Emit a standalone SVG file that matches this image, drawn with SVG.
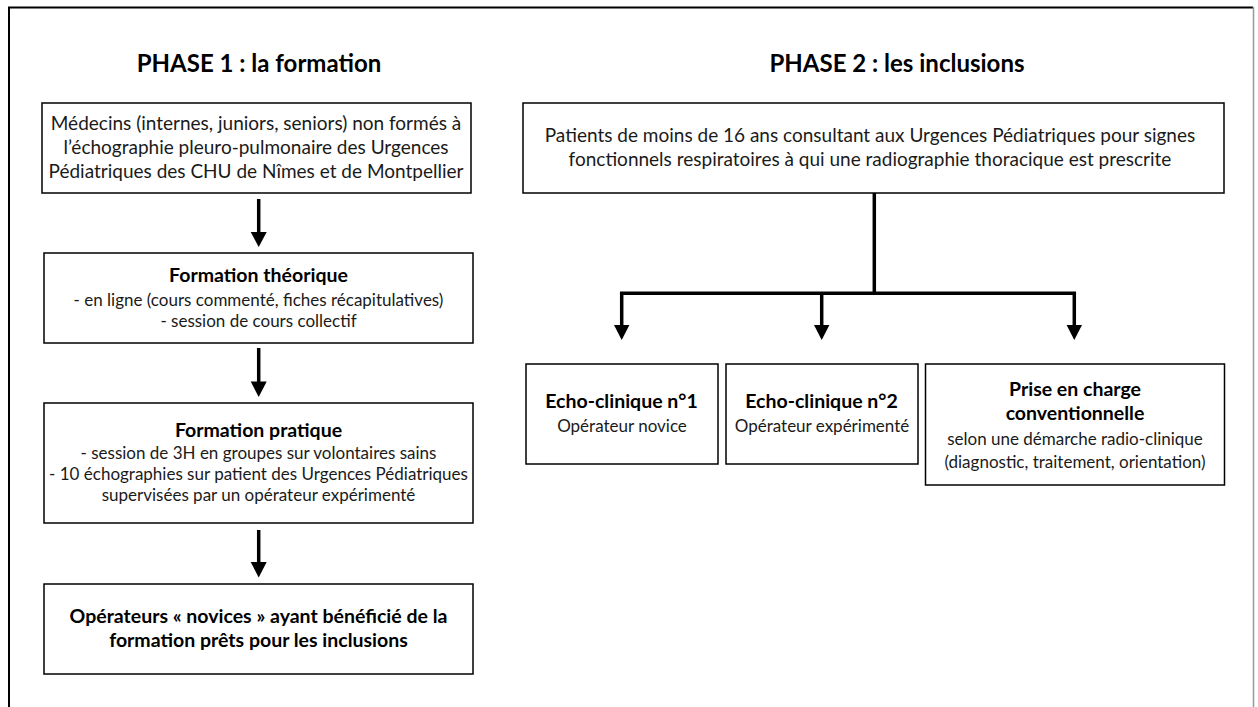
<svg xmlns="http://www.w3.org/2000/svg" width="1258" height="707" viewBox="0 0 1258 707">
<style>
.box{fill:#fff;stroke:#000;stroke-width:1.5}
.t{font-family:Lato,"Noto Sans","Liberation Sans",sans-serif;text-anchor:middle}
.title{font-size:24px;font-weight:700;fill:#000}
.h{font-size:19.5px;font-weight:700;fill:#000}
.r{font-size:17px;fill:#1a1a1a}
.rl{font-size:19px;fill:#1a1a1a}
.ln{stroke:#000;stroke-width:3.5;fill:none}
</style>
<rect width="1258" height="707" fill="#fff"/>
<g id="frame">
<path d="M9,707 L9,7.5 L1253,7.5" fill="none" stroke="#000" stroke-width="2"/>
<line x1="1253.5" y1="7" x2="1253.5" y2="707" stroke="#999" stroke-width="1.5"/>
</g>
<g id="titles">
<text class="t title" x="259" y="72">PHASE 1 : la formation</text>
<text class="t title" x="897" y="72">PHASE 2 : les inclusions</text>
</g>
<g id="connectors">
<path class="ln" d="M258.7,199 L258.7,232"/>
<path d="M250.7,232 L266.7,232 L258.7,247 Z"/>
<path class="ln" d="M258.7,348 L258.7,382"/>
<path d="M250.7,381.5 L266.7,381.5 L258.7,397 Z"/>
<path class="ln" d="M258.7,530 L258.7,563"/>
<path d="M250.7,562 L266.7,562 L258.7,577.5 Z"/>
<path class="ln" d="M874.3,193 L874.3,293.3"/>
<path class="ln" d="M621.7,326 L621.7,293.3 L1074.3,293.3 L1074.3,326"/>
<path class="ln" d="M821.7,293.3 L821.7,326"/>
<path d="M614,325 L629.4,325 L621.7,340 Z"/>
<path d="M814,325 L829.4,325 L821.7,340 Z"/>
<path d="M1066.6,325 L1082,325 L1074.3,340 Z"/>
</g>
<g id="n1">
<rect class="box" x="42" y="103" width="429" height="90"/>
<text class="t rl" x="256" y="130">Médecins (internes, juniors, seniors) non formés à</text>
<text class="t rl" x="256" y="154">l’échographie pleuro-pulmonaire des Urgences</text>
<text class="t rl" x="256" y="178">Pédiatriques des CHU de Nîmes et de Montpellier</text>
</g>
<g id="n2">
<rect class="box" x="44" y="253" width="429" height="90"/>
<text class="t h" x="258.5" y="282">Formation théorique</text>
<text class="t r" x="258.5" y="306">- en ligne (cours commenté, fiches récapitulatives)</text>
<text class="t r" x="258.5" y="327">- session de cours collectif</text>
</g>
<g id="n3">
<rect class="box" x="44" y="403" width="429" height="120"/>
<text class="t h" x="258.5" y="437">Formation pratique</text>
<text class="t r" x="258.5" y="459">- session de 3H en groupes sur volontaires sains</text>
<text class="t r" x="258.5" y="480">- 10 échographies sur patient des Urgences Pédiatriques</text>
<text class="t r" x="258.5" y="501">supervisées par un opérateur expérimenté</text>
</g>
<g id="n4">
<rect class="box" x="44" y="584" width="429" height="90"/>
<text class="t h" x="258.5" y="623">Opérateurs « novices » ayant bénéficié de la</text>
<text class="t h" x="258.5" y="647">formation prêts pour les inclusions</text>
</g>
<g id="n5">
<rect class="box" x="523" y="103" width="701" height="90"/>
<text class="t rl" x="870" y="142">Patients de moins de 16 ans consultant aux Urgences Pédiatriques pour signes</text>
<text class="t rl" x="870" y="166">fonctionnels respiratoires à qui une radiographie thoracique est prescrite</text>
</g>
<g id="n6">
<rect class="box" x="526" y="364" width="192" height="100"/>
<text class="t h" x="621.5" y="408">Echo-clinique n°1</text>
<text class="t r" x="622" y="432">Opérateur novice</text>
</g>
<g id="n7">
<rect class="box" x="726" y="364" width="192" height="100"/>
<text class="t h" x="821.5" y="408">Echo-clinique n°2</text>
<text class="t r" x="822" y="432">Opérateur expérimenté</text>
</g>
<g id="n8">
<rect class="box" x="925.5" y="364" width="299" height="121"/>
<text class="t h" x="1075" y="396">Prise en charge</text>
<text class="t h" x="1075" y="420">conventionnelle</text>
<text class="t r" x="1075" y="445">selon une démarche radio-clinique</text>
<text class="t r" x="1075" y="468">(diagnostic, traitement, orientation)</text>
</g>
</svg>
